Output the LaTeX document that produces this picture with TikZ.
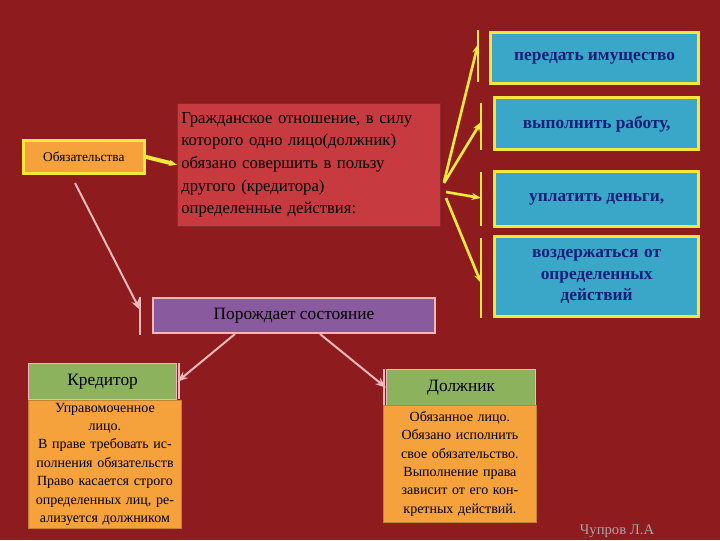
\documentclass[tikz,border=0pt]{standalone}
\usepackage{fontspec}
\setmainfont{Liberation Serif}
\usetikzlibrary{arrows.meta}
\definecolor{bg}{HTML}{8E1B1E}
\definecolor{yel}{HTML}{F5E83A}
\definecolor{cyanb}{HTML}{3AA6C8}
\definecolor{navy}{HTML}{10207A}
\definecolor{orng}{HTML}{F5A23C}
\definecolor{redb}{HTML}{C73A3F}
\definecolor{purp}{HTML}{8A5A9E}
\definecolor{grn}{HTML}{8DB25E}
\definecolor{pinkl}{HTML}{F0B8B8}
\tikzset{
 act/.style={draw=yel,line width=2.5pt,fill=cyanb,text=navy,font=\bfseries\fontsize{13}{16}\selectfont,align=center,anchor=north west},
 orb/.style={fill=orng,draw=orng!80!black,align=center,anchor=north west,font=\fontsize{10.5}{13.8}\selectfont,inner sep=2pt},
 grb/.style={fill=grn,draw=pinkl,line width=1pt,anchor=north west,font=\fontsize{13}{15}\selectfont},
 yarr/.style={draw=yel,line width=2pt,-{Stealth[length=7pt]}},
 parr/.style={draw=pinkl,line width=1.5pt,-{Stealth[length=8pt]}},
 ybar/.style={draw=yel,line width=2pt}
}
\begin{document}
\begin{tikzpicture}[x=0.75pt,y=-0.75pt]
\fill[bg] (0,0) rectangle (720,540);
\useasboundingbox (0,0) rectangle (720,540);
\node[draw=yel,line width=2pt,fill=orng,anchor=north west,minimum width=121*0.75pt,minimum height=33*0.75pt,font=\fontsize{10}{12}\selectfont] (obl) at (22,139) {Обязательства};
\node[fill=redb,draw=redb!70!black,anchor=north west,minimum width=263*0.75pt,minimum height=123*0.75pt,align=left,text width=255*0.75pt,inner sep=3pt,font=\fontsize{12.5}{17}\selectfont] (rel) at (177,103) {Гражданское отношение, в силу\\которого одно лицо(должник)\\обязано совершить в пользу\\другого (кредитора)\\определенные действия:};
\node[act,minimum width=208*0.75pt,minimum height=51*0.75pt] (a1) at (489,31) {передать имущество};
\node[act,minimum width=204*0.75pt,minimum height=52*0.75pt] (a2) at (493,96) {выполнить работу,};
\node[act,minimum width=204*0.75pt,minimum height=55*0.75pt] (a3) at (493,170) {уплатить деньги,};
\node[act,minimum width=204*0.75pt,minimum height=80*0.75pt,text width=170*0.75pt] (a4) at (493,235) {воздержаться от\\определенных\\действий};
\draw[ybar] (478,30)--(478,82) (481,103)--(481,150) (481,172)--(481,226) (481,238)--(481,318);
\draw[draw=yel,line width=3pt,-{Stealth[length=6pt]}] (obl.east)--(rel.west);
\coordinate (t1) at (478,44); \coordinate (t2) at (481,122);
\coordinate (t3) at (481,198); \coordinate (t4) at (481,283);
\draw[yarr] (444,182)--(t1);
\draw[yarr] (444,183)--(t2);
\draw[yarr] (446,192)--(t3);
\draw[yarr] (446,198)--(t4);
\node[fill=purp,draw=pinkl,line width=1.5pt,anchor=north west,minimum width=282*0.75pt,minimum height=35*0.75pt,font=\fontsize{13}{15}\selectfont] (por) at (152,297) {Порождает состояние};
\coordinate (pe) at (140,310);
\draw[parr] (75,183)--(pe);
\draw[ybar,draw=pinkl] (140,297)--(140,335);
\node[grb,minimum width=148*0.75pt,minimum height=36*0.75pt] (kr) at (28,363) {Кредитор};
\node[orb,minimum width=152*0.75pt,minimum height=117*0.75pt,text width=148*0.75pt] (kt) at (28,400) {Управомоченное\\лицо.\\В праве требовать ис-\\полнения обязательств\\Право касается строго\\определенных лиц, ре-\\ализуется должником};
\node[grb,minimum width=149*0.75pt,minimum height=36*0.75pt] (dl) at (386,369) {Должник};
\node[orb,minimum width=152*0.75pt,minimum height=117*0.75pt,text width=148*0.75pt] (dt) at (383,405) {Обязанное лицо.\\Обязано исполнить\\свое обязательство.\\Выполнение права\\зависит от его кон-\\кретных действий.};
\draw[draw=pinkl,line width=1.5pt] (179,363)--(179,399) (384,369)--(384,405);
\draw[parr] (235,334)--(kr.east);
\draw[parr] (320,334)--(dl.west);
\node[text=gray!70,font=\fontsize{11}{13}\selectfont] (au) at (617,531) {Чупров Л.А};
\end{tikzpicture}
\end{document}
